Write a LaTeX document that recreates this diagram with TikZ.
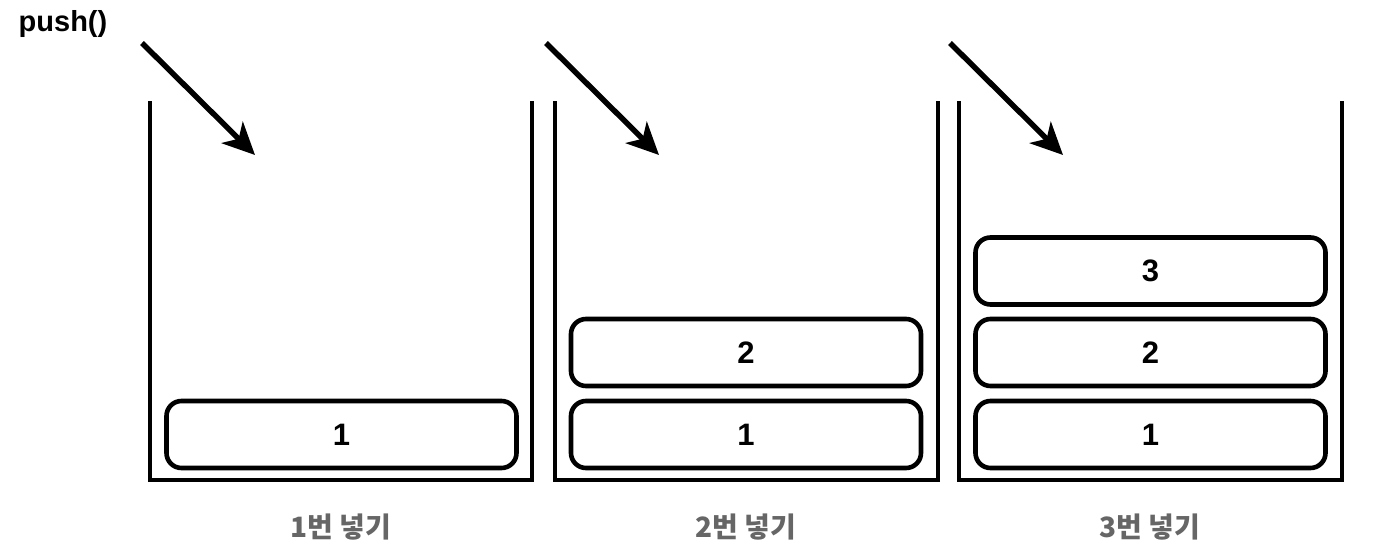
\documentclass[tikz,border=0pt]{standalone}
\usepackage{fontspec}
\setmainfont{Liberation Sans}
\newfontfamily\kr{Noto Sans CJK KR}
\usetikzlibrary{arrows.meta}
\definecolor{labelgray}{HTML}{666666}
\begin{document}
\begin{tikzpicture}[x=1pt,y=-1pt,
  wall/.style={line width=4.6pt,line cap=rect,line join=miter},
  item/.style={draw,line width=4.6pt,rounded corners=15pt,minimum width=350pt,minimum height=67pt,inner sep=0pt,font=\bfseries\fontsize{31}{31}\selectfont},
  pusharrow/.style={line width=5.5pt,-{Stealth[length=32pt,width=30pt,inset=9pt]}},
  caption/.style={text=labelgray,font=\kr\bfseries\fontsize{28}{28}\selectfont}]
\useasboundingbox (0,0) rectangle (1374,556);
\node[font=\bfseries\fontsize{29}{29}\selectfont,anchor=center] (push) at (63,24) {push()};
% containers
\foreach \n/\l/\r in {1/150/532,2/555/938,3/959/1342}{
  \draw[wall] (\l,103) -- (\l,480) -- (\r,480) -- (\r,103);
}
% arrows
\coordinate (a1s) at (142,43); \coordinate (a1e) at (255,155);
\coordinate (a2s) at (546,43); \coordinate (a2e) at (659,155);
\coordinate (a3s) at (950,43); \coordinate (a3e) at (1063,155);
\draw[pusharrow] (a1s) -- (a1e);
\draw[pusharrow] (a2s) -- (a2e);
\draw[pusharrow] (a3s) -- (a3e);
% items
\node[item] (c1b1) at (341.5,434.5) {1};
\node[item] (c2b1) at (746,434.5) {1};
\node[item] (c2b2) at (746,352.5) {2};
\node[item] (c3b1) at (1150.5,434.5) {1};
\node[item] (c3b2) at (1150.5,352.5) {2};
\node[item] (c3b3) at (1150.5,271) {3};
% captions
\node[caption] (l1) at (341,527) {1번 넣기};
\node[caption] (l2) at (746,527) {2번 넣기};
\node[caption] (l3) at (1150,527) {3번 넣기};
\end{tikzpicture}
\end{document}
